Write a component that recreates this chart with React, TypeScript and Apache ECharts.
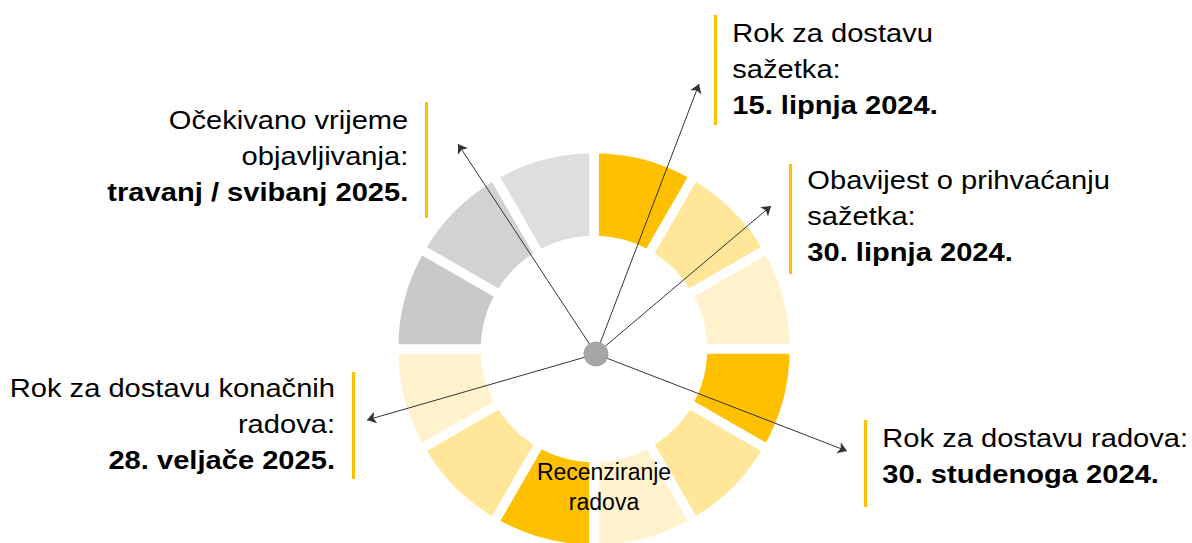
import React, { useEffect, useRef } from "react";
import * as echarts from "echarts";

// Twelve months of the conference cycle, clockwise from 12 o'clock
const segmentNames = [
  "lipanj", "srpanj", "kolovoz", "rujan", "listopad", "studeni",
  "prosinac", "siječanj", "veljača", "ožujak", "travanj", "svibanj",
];
const segmentValues = [1, 1, 1, 1, 1, 1, 1, 1, 1, 1, 1, 1];
const segmentColors = [
  "#FFC000", "#FFE699", "#FFF2CC", "#FFC000", "#FFE699", "#FFF2CC",
  "#FFC000", "#FFE699", "#FFF2CC", "#C9C9C9", "#D2D2D2", "#DEDEDE",
];

const calloutNormal = [
  ["Rok za dostavu", "sažetka:"],
  ["Obavijest o prihvaćanju", "sažetka:"],
  ["Rok za dostavu radova:"],
  ["Očekivano vrijeme", "objavljivanja:"],
  ["Rok za dostavu konačnih", "radova:"],
];
const calloutBold = [
  "15. lipnja 2024.",
  "30. lipnja 2024.",
  "30. studenoga 2024.",
  "travanj / svibanj 2025.",
  "28. veljače 2025.",
];
const innerLabel = ["Recenziranje", "radova"];

// layout (pixels)
const RING_CENTER = [594, 349];
const HUB = [596, 354];
const calloutLayout = [
  { x: 732.3, y: 15.3, align: "left", bar: [714, 15, 110], tip: [699, 84] },
  { x: 807.3, y: 162.3, align: "left", bar: [789, 164, 110], tip: [771, 206] },
  { x: 882.3, y: 419.7, align: "left", bar: [864, 420, 87], tip: [847, 451] },
  { x: 408.3, y: 102.3, align: "right", bar: [425, 102, 116], tip: [458, 144] },
  { x: 335, y: 370.3, align: "right", bar: [352, 372, 107], tip: [367, 420] },
];

const FONT = "'Liberation Sans', Arial, Helvetica, sans-serif";

export default function App() {
  const ref = useRef<HTMLDivElement>(null);

  useEffect(() => {
    document.body.style.margin = "0";
    if (!ref.current) return;
    const chart = echarts.init(ref.current, undefined, { renderer: "svg" });

    const graphics: any[] = [];
    calloutLayout.forEach((c, i) => {
      graphics.push({
        type: "rect",
        shape: { x: c.bar[0], y: c.bar[1], width: 3, height: c.bar[2] },
        style: { fill: "#FFC000" },
        silent: true,
      });
      const txt =
        calloutNormal[i].map((l) => `{n|${l}}`).join("\n") +
        `\n{b|${calloutBold[i]}}`;
      graphics.push({
        type: "text",
        x: c.x,
        y: c.y,
        scaleX: 1.12,
        silent: true,
        style: {
          text: txt,
          align: c.align,
          verticalAlign: "top",
          fill: "#000",
          rich: {
            n: { fontSize: 26, lineHeight: 36, fontFamily: FONT, fill: "#000", align: c.align },
            b: { fontSize: 26, lineHeight: 36, fontFamily: FONT, fontWeight: "bold", fill: "#000", align: c.align },
          },
        },
      });
    });
    graphics.push({
      type: "text",
      x: 604,
      y: 457,
      silent: true,
      z: 10,
      style: {
        text: innerLabel.join("\n"),
        align: "center",
        verticalAlign: "top",
        fontSize: 23,
        lineHeight: 30,
        fontFamily: FONT,
        fill: "#000",
      },
    });

    chart.setOption({
      animation: false,
      backgroundColor: "#fff",
      grid: { left: 0, right: 0, top: 0, bottom: 0 },
      xAxis: { type: "value", min: 0, max: 1192, show: false },
      yAxis: { type: "value", min: 0, max: 543, inverse: true, show: false },
      series: [
        {
          type: "pie",
          silent: true,
          z: 1,
          center: RING_CENTER,
          radius: [108.5, 200.5],
          startAngle: 90,
          clockwise: true,
          label: { show: false },
          labelLine: { show: false },
          itemStyle: { borderColor: "#fff", borderWidth: 9.5 },
          data: segmentNames.map((name, i) => ({
            name,
            value: segmentValues[i],
            itemStyle: { color: segmentColors[i] },
          })),
        },
        {
          type: "lines",
          coordinateSystem: "cartesian2d",
          silent: true,
          z: 5,
          symbol: ["none", "arrow"],
          symbolSize: 9,
          lineStyle: { color: "#333", width: 1, opacity: 1 },
          data: calloutLayout.map((c) => ({ coords: [HUB, c.tip] })),
        },
        {
          type: "scatter",
          silent: true,
          z: 6,
          symbolSize: 25,
          itemStyle: { color: "#A6A6A6", opacity: 1 },
          data: [HUB],
        },
      ],
      graphic: graphics,
    });

    return () => chart.dispose();
  }, []);

  return <div ref={ref} style={{ width: 1192, height: 543 }} />;
}
